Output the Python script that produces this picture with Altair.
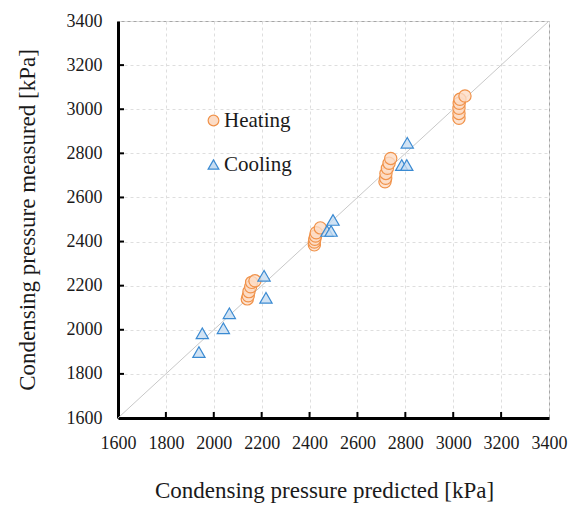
import altair as alt
import pandas as pd

# Heating runs: predicted vs measured condensing pressure [kPa]
heat_pred = [2140, 2144, 2147, 2154, 2158, 2172,
             2420, 2420, 2422, 2425, 2428, 2445,
             2715, 2718, 2719, 2725, 2732, 2739,
             3024, 3024, 3024, 3025, 3028, 3049]
heat_meas = [2140, 2154, 2173, 2195, 2215, 2222,
             2385, 2398, 2410, 2425, 2440, 2462,
             2671, 2687, 2709, 2732, 2755, 2777,
             2959, 2981, 3004, 3027, 3045, 3060]

# Cooling runs
cool_pred = [1938, 1952, 2040, 2065, 2210, 2218, 2473, 2490, 2498, 2785, 2806, 2808]
cool_meas = [1899, 1984, 2007, 2075, 2245, 2145, 2448, 2448, 2498, 2747, 2747, 2848]

axis_ticks = [1600, 1800, 2000, 2200, 2400, 2600, 2800, 3000, 3200, 3400]
inner_ticks = axis_ticks[1:-1]

W, H = 431, 397
FONT = "Liberation Serif"

points = pd.DataFrame({
    "pred": heat_pred + cool_pred,
    "meas": heat_meas + cool_meas,
    "mode": ["Heating"] * len(heat_pred) + ["Cooling"] * len(cool_pred),
})
diag = pd.DataFrame({"pred": [axis_ticks[0], axis_ticks[-1]],
                     "meas": [axis_ticks[0], axis_ticks[-1]]})
ticks = pd.DataFrame({"v": inner_ticks})

xscale = alt.Scale(domain=[1600, 3400], nice=False, zero=False)
yscale = alt.Scale(domain=[1600, 3400], nice=False, zero=False)

xaxis = alt.Axis(values=axis_ticks, format="d", title="Condensing pressure predicted [kPa]",
                 labelOverlap=False, labelFlush=False, labelPadding=16,
                 titlePadding=27, titleX=206, titleAlign="center")
yaxis = alt.Axis(values=axis_ticks, format="d", title="Condensing pressure measured [kPa]",
                 labelOverlap=False, labelFlush=False, labelPadding=16,
                 titlePadding=27)

# 1:1 reference line
line = alt.Chart(diag).mark_line(color="#c8c8c8", strokeWidth=1).encode(
    x=alt.X("pred:Q", scale=xscale, axis=xaxis),
    y=alt.Y("meas:Q", scale=yscale, axis=yaxis),
)

modes = ["Heating", "Cooling"]
scatter = alt.Chart(points).mark_point(size=150, strokeWidth=1.2, opacity=1,
                                       fillOpacity=0.8).encode(
    x=alt.X("pred:Q", scale=xscale, axis=xaxis),
    y=alt.Y("meas:Q", scale=yscale, axis=yaxis),
    shape=alt.Shape("mode:N", scale=alt.Scale(domain=modes, range=["circle", "triangle-up"]),
                    legend=alt.Legend(title=None, orient="none", legendX=85, legendY=89,
                                      labelFont=FONT, labelFontSize=21, labelColor="#1a1a1a",
                                      rowPadding=22, symbolSize=115, labelOffset=0,
                                      padding=0, symbolStrokeWidth=1.2)),
    fill=alt.Fill("mode:N", scale=alt.Scale(domain=modes, range=["#fcdcc6", "#c6dcf1"])),
    stroke=alt.Stroke("mode:N", scale=alt.Scale(domain=modes, range=["#f0924a", "#3a8ad2"])),
)

# Inward tick marks on the bottom and left axes
xticks = alt.Chart(ticks).mark_rule(color="black", strokeWidth=2).encode(
    x=alt.X("v:Q", scale=xscale), y=alt.value(H), y2=alt.value(H - 6))
yticks = alt.Chart(ticks).mark_rule(color="black", strokeWidth=2).encode(
    y=alt.Y("v:Q", scale=yscale), x=alt.value(0), x2=alt.value(6))

chart = alt.layer(line, scatter, xticks, yticks).properties(
    width=W, height=H,
    background="white",
    autosize=alt.AutoSizeParams(type="none"),
    padding={"left": 118, "top": 21, "right": 20, "bottom": 87},
).configure_view(
    stroke="#a6a6a6", strokeWidth=1,
).configure_axis(
    grid=True, gridColor="#dedede", gridDash=[3, 3], gridWidth=1,
    domainColor="black", domainWidth=3, ticks=False,
    labelFont=FONT, labelFontSize=18, labelColor="#1a1a1a",
    titleFont=FONT, titleFontSize=23, titleFontWeight="normal", titleColor="#1a1a1a",
)

chart.save("out.html", embed_options={"renderer": "svg", "actions": False})
